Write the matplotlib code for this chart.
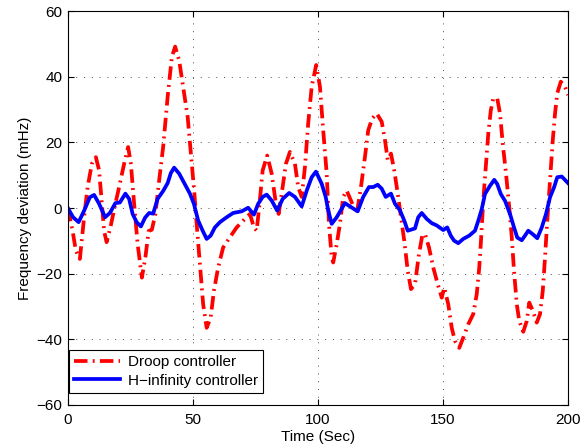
import numpy as np
import matplotlib as mpl
mpl.use('Agg')
import matplotlib.pyplot as plt

plt.rcParams['font.family'] = ['Liberation Sans', 'DejaVu Sans']

# droop controller (red dash-dot)
t_droop = [0, 1.9, 3.2, 4.8, 6.5, 7.9, 9.6, 11.2, 12.5, 13.6, 14.5, 15.5, 17,
           19, 20.5, 22.5, 24.1, 25.2, 26.5, 27.9, 29.6, 31, 32.3, 33.6, 35,
           36.5, 38.1, 39.9, 41.6, 42.9, 44.5, 46.1, 47.9, 49.2, 50.5, 51.5,
           52.8, 54.1, 55.5, 57.1, 58.4, 60.1, 62.1, 64.8, 67.5, 70.8, 72.8,
           74.4, 75.5, 76.5, 77.9, 79.7, 81.5, 83.2, 84.3, 85.5, 87.2, 88.8,
           90.8, 92.1, 93.5, 94.8, 96.1, 97.5, 99.3, 100.8, 102.1, 103.5,
           104.4, 105.5, 106.1, 107.5, 108.8, 110.1, 111.5, 113.2, 115.5,
           117.2, 118.8, 120.1, 121.7, 123.5, 125.5, 126.8, 127.9, 129.2,
           130.5, 131.9, 133.2, 134.5, 135.9, 137.2, 138.8, 140.4, 141.7,
           142.8, 144.4, 146.1, 147.9, 149.5, 150.5, 152.1, 153.5, 154.8,
           156.5, 158.1, 160.1, 162.1, 163.5, 164.5, 165.2, 166.1, 167.2,
           168.1, 169.1, 170.1, 171.7, 172.8, 173.9, 175.2, 176.5, 177.5,
           178.4, 179.5, 180.5, 182.1, 183.5, 184.5, 185.9, 187.5, 188.8,
           189.9, 190.8, 191.7, 192.8, 193.9, 194.8, 195.7, 197.1, 198.8, 200]
droop = [0, -7, -13, -15.5, -2.8, 6.4, 13.5, 15.5, 11.5, 1.3, -7, -10.4, -5.9,
         1.3, 6.4, 13.5, 18.6, 13.5, 1.3, -11, -21.2, -15, -7, -6.6, -1.8,
         8.4, 18.6, 33.9, 46.1, 49.2, 45, 37, 27.8, 16.5, 5.3, -4.8,
         -17, -29.3, -36.5, -33.4, -25.2, -18.1, -12, -8.9, -5.9, -3.3, -1.8,
         -5.9, -6.9, 0.3, 11.5, 16, 10.5, 1.3, -1.8, 4.4, 13.5, 17.1,
         13.5, 6.4, 3.4, 12.5, 25.8, 37, 43.6, 37, 23.7, 10.5,
         -4.8, -15, -16.6, -11, -4.8, 3.4, 5.3, 2.3, -1.8,
         6.4, 15.6, 23.7, 27.3, 28.8, 26.3, 20.7, 14.6, 16.6,
         11.5, 4.4, -2.8, -9.9, -19.1, -24.7, -23.2, -14, -8.4,
         -7.9, -12, -18.1, -23.2, -27.3, -24.2, -29.3, -36.5, -40.5,
         -42.6, -39.5, -35.4, -32.3, -26.2, -18.1, -9.9, 2.2, 13.5,
         22.6, 29.7, 33.4, 33.4, 28.8, 19.6, 10.5, 0.2, -8.9,
         -19.1, -29.3, -34.4, -37.7, -34.4, -28.8, -31.3, -34.9, -32.3,
         -25.2, -15, -3.8, 8.4, 20.7, 28.8, 35, 38.5, 37, 34.4]

# H-infinity controller (blue solid)
t_hinf = [0, 2.1, 4.3, 6.5, 8.8, 10.5, 12.5, 14.9, 16.8, 19, 20.8, 23, 24.5,
          25.9, 27.5, 29.2, 30.9, 32.5, 34.1, 35.9, 38.1, 39.9, 41.2, 42.5,
          44.5, 46.9, 48.8, 50.4, 52.1, 53.9, 55.5, 57.1, 58.8, 60.8, 63.5,
          66.1, 69.5, 72.1, 73.5, 74.4, 76.1, 77.9, 79.5, 81.5, 83.7, 85.9,
          88.5, 90.8, 93.5, 95.5, 97.5, 99.2, 101.5, 103.1, 104.1, 105.5,
          107.5, 109.5, 110.8, 112.8, 115.9, 118.1, 120.4, 122.1, 123.9,
          125.5, 127.1, 129.2, 130.8, 132.8, 134.5, 135.9, 138.8, 140.1,
          141.5, 143.5, 145.5, 147.5, 150.1, 151.7, 153.1, 154.4, 156.1,
          158.1, 160.5, 162.8, 164.1, 165.5, 166.8, 168.8, 170.5, 171.7,
          173.1, 174.8, 176.8, 178.4, 179.7, 181.5, 182.8, 184.1, 186.1,
          187.7, 189.5, 191.2, 192.8, 194.4, 195.7, 197.5, 200]
hinf = [0, -2.8, -4.3, -0.8, 3.3, 4, 1.3, -2.8, -1.5, 1.5, 1.7, 4.4, 2.8,
        -1.8, -4.3, -5.6, -2.9, -1.5, -1.7, 2.8, 5.2, 7.6, 10.7, 12.3,
        10.5, 7.1, 4.4, 1.3, -3.8, -6.9, -9.4, -8.4, -5.9, -4.3, -2.8,
        -1.5, -1, 0.1, -1.2, -2, 1.3, 3.4, 4.1, 2.3, -0.8, 2.8,
        4.6, 3.4, 0.5, 5.3, 9.4, 11.1, 7.4, 3.4, -0.7, -4.8,
        -2.8, -0.2, 1.5, 0.5, -1, 3.4, 6.4, 6.4, 7.1,
        5.9, 3.4, 4.4, 1.3, -0.7, -3.8, -6.9, -6.2, -2.8,
        -1.5, -3.3, -4.6, -5.3, -6.7, -5.9, -8.4, -9.9, -10.7,
        -9.4, -8.4, -6.9, -3.9, -0.3, 4.3, 6.8, 8.6, 7.3,
        4.3, 2.2, -1.8, -5.9, -9, -9.8, -8.4, -6.9, -8.1,
        -9.2, -5.9, -1.8, 3.3, 6.3, 9.4, 9.6, 7.6]

fig = plt.figure(figsize=(5.85, 4.46), dpi=100)
ax = fig.add_axes([0.116, 0.092, 0.855, 0.883])

ax.plot(t_droop, droop, color='red', lw=2.7, dashes=(3.6, 1.4, 0.5, 1.4),
        label='Droop controller')
ax.plot(t_hinf, hinf, color='blue', lw=2.7, label='H\u2212infinity controller')

ax.set_xlim(0, 200)
ax.set_ylim(-60, 60)
ax.set_xticks([0, 50, 100, 150, 200])
ax.set_yticks([-60, -40, -20, 0, 20, 40, 60])
ax.tick_params(direction='in', top=True, right=True, labelsize=11, length=4, pad=4)
ax.tick_params(axis='x', pad=6)
ax.grid(True, linestyle=(0, (1, 7)), color='0.3', lw=0.7)
ax.set_xlabel('Time (Sec)', fontsize=11, labelpad=2)
ax.set_ylabel('Frequency deviation (mHz)', fontsize=11, labelpad=3)

leg = ax.legend(loc='lower left', bbox_to_anchor=(0.002, 0.03), borderaxespad=0,
                fancybox=False, framealpha=1, edgecolor='black', fontsize=11,
                handlelength=3.0, handletextpad=0.5, borderpad=0.35, labelspacing=0.3)
leg.get_frame().set_linewidth(0.8)

fig.savefig('out.png', dpi=100)
